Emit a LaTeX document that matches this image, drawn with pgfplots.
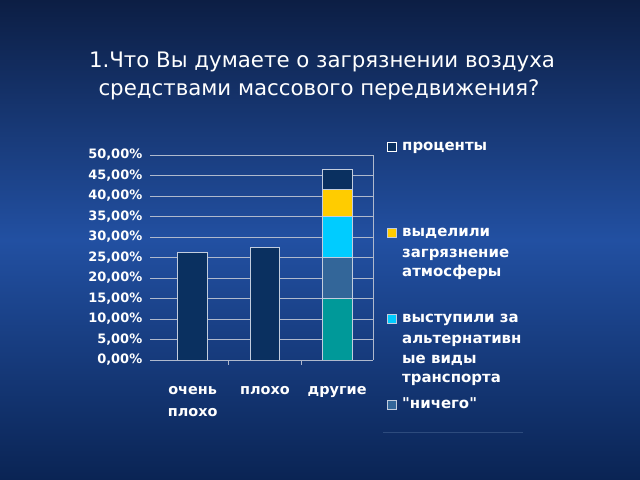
\documentclass[border=0pt]{standalone}
\usepackage{fontspec}
\setmainfont{DejaVu Sans}[Ligatures=TeXOff]
\usepackage{pgfplots}
\pgfplotsset{compat=1.18}

\definecolor{bgtop}{RGB}{12,30,68}
\definecolor{bgmid}{RGB}{34,80,162}
\definecolor{bgbot}{RGB}{10,36,84}
\definecolor{gridc}{RGB}{175,185,205}
\definecolor{barline}{RGB}{195,205,222}
\definecolor{cnavy}{RGB}{10,48,96}
\definecolor{cyellow}{RGB}{255,204,0}
\definecolor{ccyan}{RGB}{0,204,255}
\definecolor{csteel}{RGB}{51,102,153}
\definecolor{cteal}{RGB}{0,153,153}

\begin{document}
\begin{tikzpicture}[x=1bp,y=1bp]
\shade[top color=bgtop, bottom color=bgbot, middle color=bgmid] (0,0) rectangle (640,480);

% title
\node[text=white, font=\fontsize{21.4}{28}\selectfont, anchor=base, inner sep=0] at (322,412) {1.Что Вы думаете о загрязнении воздуха};
\node[text=white, font=\fontsize{21.4}{28}\selectfont, anchor=base, inner sep=0] at (319,384) {средствами массового передвижения?};

\begin{axis}[
    at={(150bp,120bp)}, anchor=south west, scale only axis,
    width=223.3bp, height=205bp,
    xmin=-0.59, xmax=2.5, ymin=0, ymax=50,
    ybar stacked, bar width=0.41,
    axis line style={draw=none},
    ymajorgrids, grid style={color=gridc, line width=0.9bp},
    ytick={0,5,...,50},
    yticklabel={\pgfmathprintnumber[fixed,fixed zerofill,precision=2,use comma]{\tick}\%},
    /pgf/number format/assume math mode=true,
    yticklabel style={font=\bfseries\fontsize{13}{15}\selectfont, text=white},
    ytick pos=left, xtick pos=bottom,
    tick align=outside,
    every major y tick/.append style={draw=none},
    xtick={0,1,2},
    xticklabels={{очень\\плохо},плохо,другие},
    xticklabel style={font=\bfseries\fontsize{14.5}{21.5}\selectfont, text=white, align=center, yshift=-19bp},
    every major x tick/.append style={draw=none},
    minor xtick={0.5,1.5},
    every minor x tick/.append style={draw=gridc, line width=0.9bp},
    minor tick length=5bp,
    extra x ticks={2.5}, extra x tick labels={},
    extra x tick style={grid=major},
]
\addplot[fill=cteal, draw=barline, line width=0.8bp] coordinates {(0,0) (1,0) (2,15)};
\addplot[fill=csteel, draw=barline, line width=0.8bp] coordinates {(0,0) (1,0) (2,10)};
\addplot[fill=ccyan, draw=barline, line width=0.8bp] coordinates {(0,0) (1,0) (2,10)};
\addplot[fill=cyellow, draw=barline, line width=0.8bp] coordinates {(0,0) (1,0) (2,6.5)};
\addplot[fill=cnavy, draw=barline, line width=0.8bp] coordinates {(0,26.2) (1,27.4) (2,4.9)};
\end{axis}

% legend
\begin{scope}[every node/.style={text=white, font=\bfseries\fontsize{15}{17}\selectfont, anchor=base west, inner sep=0}]
\draw[draw=white, fill=cnavy, line width=0.8bp] (387,328.8) rectangle (396,337.8);
\node at (402,329) {проценты};
\draw[draw=barline, fill=cyellow, line width=0.8bp] (387,242.5) rectangle (396,251.5);
\node at (402,243) {выделили};
\node at (402,222) {загрязнение};
\node at (402,203) {атмосферы};
\draw[draw=barline, fill=ccyan, line width=0.8bp] (387,156.5) rectangle (396,165.5);
\node at (402,157) {выступили за};
\node at (402,136) {альтернативн};
\node at (402,116) {ые виды};
\node at (402,97) {транспорта};
\draw[draw=barline, fill=csteel, line width=0.8bp] (387,70.5) rectangle (396,79.5);
\node at (402,71) {"ничего"};
\end{scope}
\draw[color={rgb,255:red,45;green,75;blue,125}, line width=0.8bp] (383,48) -- (523,48);

\pgfresetboundingbox
\path[use as bounding box] (0,0) rectangle (640,480);
\end{tikzpicture}
\end{document}
